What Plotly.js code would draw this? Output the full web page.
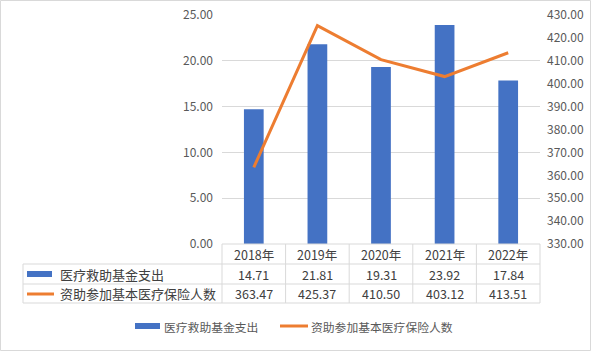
<!DOCTYPE html>
<html>
<head>
<meta charset="utf-8">
<script src="https://cdn.plot.ly/plotly-3.0.1.min.js"></script>
<style>html,body{margin:0;padding:0;background:#fff;}#chart{width:591px;height:351px;}</style>
</head>
<body>
<div id="chart"></div>
<script>
const categories = ['2018年', '2019年', '2020年', '2021年', '2022年'];
const barName = '医疗救助基金支出';
const lineName = '资助参加基本医疗保险人数';
const fundSpending = [14.71, 21.81, 19.31, 23.92, 17.84];
const insuredAssisted = [363.47, 425.37, 410.50, 403.12, 413.51];
const leftTicks = [0, 5, 10, 15, 20, 25];
const rightTicks = [330, 340, 350, 360, 370, 380, 390, 400, 410, 420, 430];

const W = 591, H = 351;
const L = 222, R = 540, T = 15, B = 244;
const px = x => (x - L) / (R - L);
const py = y => (B - y) / (B - T);
const BLUE = '#4472C4', ORANGE = '#ED7D31', GRID = '#D9D9D9', TXT = '#595959';
const FONT = '"Noto Sans CJK SC", "Microsoft YaHei", sans-serif';

const traces = [
  {type: 'bar', x: categories, y: fundSpending, name: barName, marker: {color: BLUE}, width: 0.31, yaxis: 'y', hoverinfo: 'skip'},
  {type: 'scatter', mode: 'lines', x: categories, y: insuredAssisted, name: lineName, line: {color: ORANGE, width: 3}, yaxis: 'y2', hoverinfo: 'skip'}
];

const shapes = [];
const line = (x0, y0, x1, y1) => shapes.push({type: 'line', xref: 'paper', yref: 'paper', x0: px(x0), y0: py(y0), x1: px(x1), y1: py(y1), line: {color: GRID, width: 1}});
// outer border
shapes.push({type: 'rect', xref: 'paper', yref: 'paper', x0: px(0.5), y0: py(0.5), x1: px(590.5), y1: py(350.5), line: {color: GRID, width: 1}});
// data table grid
const rowY = [244, 264, 284, 303];
line(L, rowY[0], R, rowY[0]);
for (let i = 1; i < rowY.length; i++) line(23, rowY[i], R, rowY[i]);
line(23, rowY[1], 23, rowY[3]);
const n = categories.length;
for (let i = 0; i <= n; i++) {
  const x = L + (R - L) * i / n;
  line(x, rowY[0], x, rowY[3]);
}
// table legend keys
shapes.push({type: 'rect', xref: 'paper', yref: 'paper', x0: px(27), x1: px(52), y0: py(271), y1: py(277), line: {width: 0}, fillcolor: BLUE});
shapes.push({type: 'line', xref: 'paper', yref: 'paper', x0: px(27), x1: px(54), y0: py(294), y1: py(294), line: {color: ORANGE, width: 3}});
// bottom legend keys
shapes.push({type: 'rect', xref: 'paper', yref: 'paper', x0: px(135), x1: px(160), y0: py(323), y1: py(329), line: {width: 0}, fillcolor: BLUE});
shapes.push({type: 'line', xref: 'paper', yref: 'paper', x0: px(280), x1: px(308), y0: py(326), y1: py(326), line: {color: ORANGE, width: 3}});

const annotations = [];
const ann = (text, xref, x, y, xanchor, color, size) => annotations.push({text: text, xref: xref, yref: 'paper', x: x, y: py(y), xanchor: xanchor || 'center', yanchor: 'middle', showarrow: false, font: {family: FONT, size: size || 12.5, color: color || '#404040'}});
categories.forEach((c, i) => {
  ann(c, 'x', i, 254);
  ann(fundSpending[i].toFixed(2), 'x', i, 274);
  ann(insuredAssisted[i].toFixed(2), 'x', i, 293.5);
});
ann(barName, 'paper', px(58), 274, 'left', null, 13);
ann(lineName, 'paper', px(58), 293.5, 'left', null, 13);
ann(barName, 'paper', px(162), 326, 'left', TXT, 11.8);
ann(lineName, 'paper', px(309), 326, 'left', TXT, 11.8);

const layout = {
  width: W, height: H,
  margin: {l: L, r: W - R, t: T, b: H - B, pad: 0},
  paper_bgcolor: '#fff', plot_bgcolor: '#fff',
  font: {family: FONT, size: 12, color: TXT},
  showlegend: false,
  xaxis: {type: 'category', showticklabels: false, showgrid: false, zeroline: false, showline: false, ticks: '', range: [-0.5, n - 0.5], fixedrange: true},
  yaxis: {range: [0, 25], tickvals: leftTicks, ticktext: leftTicks.map(v => v.toFixed(2)), showgrid: true, gridcolor: GRID, gridwidth: 1, zeroline: false, showline: false, ticks: '', ticklabelstandoff: 8, tickfont: {family: FONT, size: 12, color: TXT}},
  yaxis2: {overlaying: 'y', side: 'right', range: [330, 430], tickvals: rightTicks, ticktext: rightTicks.map(v => v.toFixed(2)), showgrid: false, zeroline: false, showline: false, ticks: '', ticklabelstandoff: 6, tickfont: {family: FONT, size: 12, color: TXT}},
  shapes: shapes,
  annotations: annotations
};

Plotly.newPlot('chart', traces, layout, {displayModeBar: false, staticPlot: true});
</script>
</body>
</html>
